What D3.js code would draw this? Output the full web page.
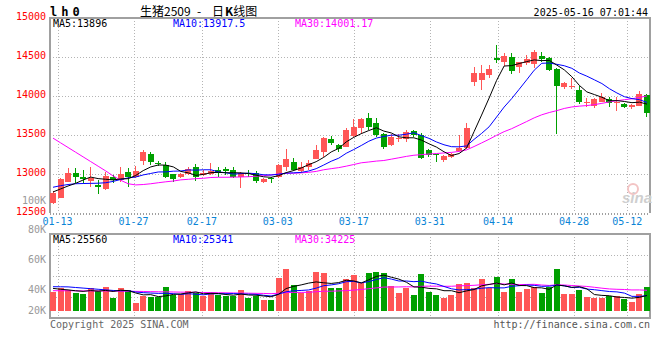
<!DOCTYPE html>
<meta charset='utf-8'>
<body style='margin:0;background:#fff'>
<script src='https://d3js.org/d3.v7.min.js'></script>
<script>

var dates = ['01-13','01-14','01-15','01-16','01-17','01-20','01-21','01-22','01-23','01-24',
  '01-27','02-05','02-06','02-07','02-10','02-11','02-12','02-13','02-14','02-17',
  '02-18','02-19','02-20','02-21','02-24','02-25','02-26','02-27','02-28','03-03',
  '03-04','03-05','03-06','03-07','03-10','03-11','03-12','03-13','03-14','03-17',
  '03-18','03-19','03-20','03-21','03-24','03-25','03-26','03-27','03-28','03-31',
  '04-01','04-02','04-03','04-07','04-08','04-09','04-10','04-11','04-14','04-15',
  '04-16','04-17','04-18','04-21','04-22','04-23','04-24','04-25','04-28','04-29',
  '04-30','05-06','05-07','05-08','05-09','05-12','05-13','05-14','05-15','05-16'];

var open = [12632,12696,12900,13013,12958,12914,12859,12808,12958,12923,
  13030,12966,13171,13257,13145,13115,13000,12958,13000,13086,
  12987,13000,13051,13064,13051,12958,13017,13009,12897,12945,
  12966,13094,13150,13043,13086,13197,13286,13449,13372,13350,
  13487,13594,13714,13650,13509,13372,13445,13449,13556,13500,
  13308,13260,13180,13222,13299,13329,14183,14205,14269,14491,
  14440,14496,14376,14419,14410,14513,14491,14346,14119,14119,
  14077,13906,13872,13927,13958,13914,13894,13863,13876,14013];
var close = [12759,12936,13017,12966,12936,12949,12837,12974,12923,13000,
  12966,13043,13286,13158,13124,12958,12930,12996,13064,12966,
  13017,13043,13017,13038,12966,13009,13000,12914,12932,12932,
  13115,13192,13051,13094,13145,13308,13466,13401,13320,13564,
  13598,13705,13598,13500,13350,13478,13458,13535,13500,13201,
  13244,13245,13235,13257,13329,13594,14299,14299,14346,14461,
  14517,14325,14432,14470,14568,14474,14339,14132,14162,14132,
  13918,13919,13961,13991,13906,13927,13863,13885,14026,13779];
var high = [12786,12950,13073,13073,13050,13086,12923,13030,12990,13094,
  13073,13103,13308,13278,13171,13160,13005,13010,13094,13124,
  13051,13137,13094,13086,13094,13020,13051,13038,12945,12966,
  13130,13320,13201,13150,13180,13372,13478,13491,13380,13586,
  13705,13722,13778,13714,13530,13510,13513,13564,13570,13520,
  13320,13262,13244,13273,13500,13658,14376,14397,14397,14654,
  14547,14547,14440,14526,14590,14568,14504,14360,14175,14235,
  14132,13970,13970,14042,13991,13983,13910,13897,14064,14020];
var low = [12620,12690,12895,12880,12880,12837,12744,12800,12890,12900,
  12837,12950,13115,13115,13100,12950,12900,12950,12990,12914,
  12980,12990,12966,12990,12950,12816,12966,12889,12890,12889,
  12950,13043,13040,13010,13051,13190,13222,13372,13278,13340,
  13480,13513,13570,13470,13320,13360,13415,13415,13480,13190,
  13214,13160,13158,13201,13290,13320,14128,14077,14227,14419,
  14385,14282,14290,14397,14360,14440,14325,13513,14090,14086,
  13897,13863,13842,13920,13863,13812,13850,13833,13870,13727];
var volume = [31900,37500,34700,30200,28000,38600,33000,40300,21800,38600,
  34700,13400,24600,23500,22400,40300,26300,28000,33000,30200,
  24600,30200,26300,24600,24600,34700,21800,24600,17900,17900,
  55400,70000,43100,30200,33000,65500,62700,37500,37500,52600,
  59900,45900,63800,65500,63800,42000,30200,37500,26300,61600,
  31900,26300,21800,26300,44800,47000,37500,53200,37500,57100,
  31900,53200,31900,36400,40300,30200,40300,69730,28000,28000,
  35610,23000,21000,21000,25000,24600,19600,15100,28000,40500];

// moving averages before the first visible day
var ma5Head = [12770, 12808, 12846, 12880];
var ma10Head = [12830, 12850, 12865, 12875, 12878, 12880, 12882, 12888, 12905];
var ma30Head = [13460, 13400, 13340, 13280, 13220, 13160, 13100, 13040, 12975, 12920,
  12875, 12860, 12865, 12875, 12888, 12900, 12910, 12925, 12932, 12940,
  12945, 12955, 12958, 12958, 12960, 12962, 12965, 12972, 12978];
var volMa5Head = [37500, 36000, 35000, 33500];
var volMa10Head = [40300, 40200, 40000, 39000, 38000, 37000, 36000, 35000, 34000];
var volMa30Head = [33600, 33500, 33500, 33400, 33300, 33300, 33200, 33100, 33000, 32900,
  32700, 32500, 32300, 32000, 31800, 31600, 31400, 31200, 31000, 30800,
  30600, 30400, 30200, 30000, 29800, 29600, 29400, 29200, 29000];

var priceTicks = [15000, 14500, 14000, 13500, 13000, 12500];
var dateTicks = ['01-13','01-27','02-17','03-03','03-17','03-31','04-14','04-28','05-12'];
var volTicks = [100000, 80000, 60000, 40000, 20000];

var colors = { up: '#ff5656', down: '#00a000', ma5: '#000000', ma10: '#0000ff', ma30: '#ff00ff',
  grid: '#b4b4b4', frame: '#a0a0a0', price: '#ff0000', date: '#0a84d6', vol: '#999999' };
var mono = "'DejaVu Sans Mono', 'Liberation Mono', monospace";

var pLeft = 50, pRight = 650, pTop = 18, pBottom = 213, vTop = 234, vBottom = 318, vBase = 310.7;

var svg = d3.select('body').append('svg')
    .attr('width', 660)
    .attr('height', 360)
    .style('display', 'block');

var x = d3.scaleBand().domain(d3.range(dates.length)).range([pLeft, pRight]).paddingInner(0.2);
var xTick = d3.scaleLinear().domain([-1, dates.length - 2]).range([pLeft, pRight]);
var y = d3.scaleLinear().domain([12500, 15000]).range([pBottom, pTop]);
var yVol = d3.scaleLinear().domain([0, 10000]).range([vBase, vBase - 10000 / 1680]);
var yVolLabel = d3.scaleLinear().domain([100000, 20000]).range([200, 319]);

function cx(i) { return x(i) + x.bandwidth() / 2; }

function movingAverage(values, head, n) {
    return values.map(function(v, i) {
        if (i < n - 1) return head[i];
        return d3.mean(values.slice(i - n + 1, i + 1));
    });
}

// grid
var grid = svg.append('g')
    .attr('stroke', colors.grid)
    .attr('stroke-dasharray', '1,2')
    .attr('shape-rendering', 'crispEdges');

grid.selectAll('.hp')
    .data(priceTicks.slice(1, 5))
    .enter().append('line')
    .attr('x1', pLeft).attr('x2', pRight)
    .attr('y1', function(d) { return Math.round(y(d)) + 0.5; })
    .attr('y2', function(d) { return Math.round(y(d)) + 0.5; });

grid.selectAll('.hv')
    .data([1, 2, 3])
    .enter().append('line')
    .attr('x1', pLeft).attr('x2', pRight)
    .attr('y1', function(d) { return Math.round(vTop + d * (vBottom - vTop) / 4) + 0.5; })
    .attr('y2', function(d) { return Math.round(vTop + d * (vBottom - vTop) / 4) + 0.5; });

dateTicks.forEach(function(d) {
    var px = Math.round(xTick(dates.indexOf(d))) + 0.5;
    grid.append('line').attr('x1', px).attr('x2', px).attr('y1', pTop).attr('y2', pBottom);
    grid.append('line').attr('x1', px).attr('x2', px).attr('y1', vTop).attr('y2', vBottom);
});

grid.append('line')
    .attr('x1', pLeft).attr('x2', pRight).attr('y1', pBottom + 0.5).attr('y2', pBottom + 0.5)
    .attr('stroke', colors.frame).attr('stroke-width', 2);

// frames
var frame = svg.append('g')
    .attr('fill', 'none')
    .attr('stroke', colors.frame)
    .attr('stroke-width', 2);

frame.append('path').attr('d', 'M' + pLeft + ',' + pBottom + 'V' + pTop + 'H' + pRight + 'V' + pBottom);
frame.append('rect')
    .attr('x', pLeft).attr('y', vTop)
    .attr('width', pRight - pLeft).attr('height', vBottom - vTop);

// price axis labels
svg.append('g').selectAll('text')
    .data(priceTicks)
    .enter().append('text')
    .attr('x', 46)
    .attr('y', function(d) { return y(d) + 2; })
    .attr('text-anchor', 'end')
    .attr('fill', colors.price)
    .style('font', '10px ' + mono)
    .text(function(d) { return d; });

// volume axis labels
svg.append('g').selectAll('text')
    .data(volTicks)
    .enter().append('text')
    .attr('x', 46)
    .attr('y', function(d) { return Math.min(yVolLabel(d), 310) + 3.5; })
    .attr('text-anchor', 'end')
    .attr('fill', colors.vol)
    .style('font', '10px ' + mono)
    .text(function(d) { return (d / 1000) + 'K'; });

// date labels
svg.append('g').selectAll('text')
    .data(dateTicks)
    .enter().append('text')
    .attr('x', function(d) { return xTick(dates.indexOf(d)); })
    .attr('y', 225)
    .attr('text-anchor', 'middle')
    .attr('fill', colors.date)
    .style('font', '10px ' + mono)
    .text(function(d) { return d; });

// watermark
svg.append('circle').attr('cx', 633).attr('cy', 189).attr('r', 5)
    .attr('fill', 'none').attr('stroke', '#f3c4c4').attr('stroke-width', 2);
svg.append('text')
    .attr('x', 652).attr('y', 203)
    .attr('text-anchor', 'end')
    .attr('fill', '#cfcfcf')
    .style('font', 'italic bold 15px Arial, sans-serif')
    .text('sina');

// candles
var candles = svg.append('g').selectAll('g')
    .data(dates)
    .enter().append('g')
    .attr('fill', function(d, i) { return close[i] >= open[i] ? colors.up : colors.down; })
    .attr('stroke', function(d, i) { return close[i] >= open[i] ? colors.up : colors.down; })
    .attr('shape-rendering', 'crispEdges');

candles.append('line')
    .attr('x1', function(d, i) { return Math.floor(cx(i)) + 0.5; })
    .attr('x2', function(d, i) { return Math.floor(cx(i)) + 0.5; })
    .attr('y1', function(d, i) { return y(high[i]); })
    .attr('y2', function(d, i) { return y(low[i]); });

candles.append('rect')
    .attr('stroke', 'none')
    .attr('x', function(d, i) { return Math.round(x(i)); })
    .attr('width', 6)
    .attr('y', function(d, i) { return y(Math.max(open[i], close[i])); })
    .attr('height', function(d, i) { return Math.max(1, Math.abs(y(open[i]) - y(close[i]))); });

// volume bars
svg.append('g').selectAll('rect')
    .data(volume)
    .enter().append('rect')
    .attr('shape-rendering', 'crispEdges')
    .attr('x', function(d, i) { return Math.round(x(i)); })
    .attr('width', 6)
    .attr('y', function(d) { return yVol(d); })
    .attr('height', function(d) { return vBase - yVol(d); })
    .attr('fill', function(d, i) { return close[i] >= open[i] ? colors.up : colors.down; });

// moving average lines
var priceLine = d3.line().x(function(d, i) { return cx(i); }).y(function(d) { return y(d); });
var volLine = d3.line().x(function(d, i) { return cx(i); }).y(function(d) { return yVol(d); });

var priceMA = [
    { values: movingAverage(close, ma5Head, 5), color: colors.ma5 },
    { values: movingAverage(close, ma10Head, 10), color: colors.ma10 },
    { values: movingAverage(close, ma30Head, 30), color: colors.ma30 }
];
var volMA = [
    { values: movingAverage(volume, volMa5Head, 5), color: colors.ma5 },
    { values: movingAverage(volume, volMa10Head, 10), color: colors.ma10 },
    { values: movingAverage(volume, volMa30Head, 30), color: colors.ma30 }
];

svg.append('g').selectAll('path')
    .data(priceMA.slice().reverse())
    .enter().append('path')
    .attr('fill', 'none')
    .attr('stroke', function(d) { return d.color; })
    .attr('stroke-width', 1)
    .attr('d', function(d) { return priceLine(d.values); });

svg.append('g').selectAll('path')
    .data(volMA.slice().reverse())
    .enter().append('path')
    .attr('fill', 'none')
    .attr('stroke', function(d) { return d.color; })
    .attr('stroke-width', 1)
    .attr('d', function(d) { return volLine(d.values); });

// legends
function legend(yPos, list, fmt) {
    var names = ['MA5:', 'MA10:', 'MA30:'];
    var xs = [53, 173, 295];
    list.forEach(function(d, i) {
        svg.append('text')
            .attr('x', xs[i]).attr('y', yPos)
            .attr('fill', d.color)
            .style('font', '10px ' + mono)
            .text(names[i] + fmt[i](d.values[d.values.length - 1]));
    });
}
legend(27, priceMA, [d3.format('.0f'), d3.format('.1f'), d3.format('.2f')]);
legend(243, volMA, [d3.format('.0f'), d3.format('.0f'), d3.format('.0f')]);

// header and footer
svg.append('text')
    .attr('x', 50).attr('y', 16)
    .attr('fill', '#000')
    .attr('letter-spacing', 4)
    .style('font', 'bold 12px ' + mono)
    .text('lh0');

var cjk = "'Noto Sans CJK SC', sans-serif";
svg.append('text')
    .attr('x', 140).attr('y', 16)
    .attr('fill', '#000')
    .style('font', '12px ' + cjk)
    .text('生猪2509');
svg.append('text')
    .attr('x', 199).attr('y', 16)
    .attr('text-anchor', 'middle')
    .attr('fill', '#000')
    .style('font', '12px ' + cjk)
    .text('-');
var title2 = svg.append('text')
    .attr('x', 212).attr('y', 16)
    .attr('fill', '#000')
    .style('font', '12px ' + cjk);
title2.append('tspan').text('日');
title2.append('tspan').attr('dx', 1).style('font-weight', 'bold').text('K');
title2.append('tspan').text('线图');

svg.append('text')
    .attr('x', 648).attr('y', 16)
    .attr('text-anchor', 'end')
    .attr('fill', '#000')
    .style('font', '10px ' + mono)
    .text('2025-05-16 07:01:44');

svg.append('text')
    .attr('x', 50).attr('y', 328)
    .attr('fill', '#666')
    .style('font', '10px ' + mono)
    .text('Copyright 2025 SINA.COM');

svg.append('text')
    .attr('x', 650).attr('y', 328)
    .attr('text-anchor', 'end')
    .attr('fill', '#555')
    .style('font', '10px ' + mono)
    .text('http://finance.sina.com.cn');

</script>
</body>
